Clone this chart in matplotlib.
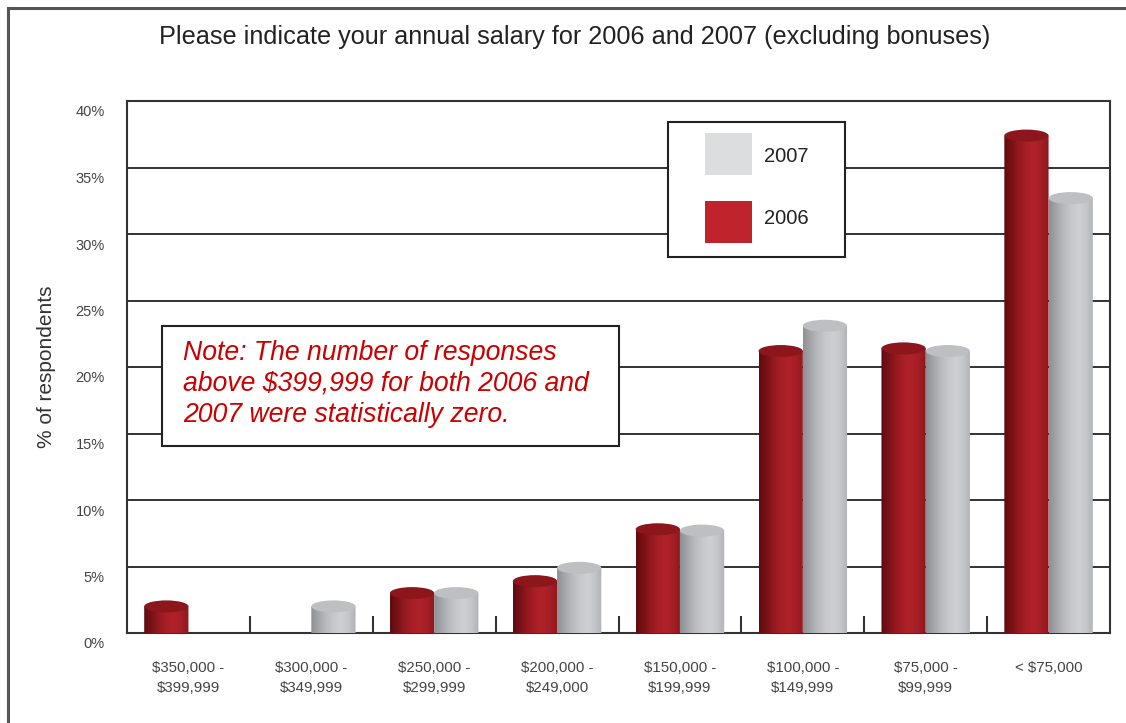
import numpy as np
import matplotlib
matplotlib.use("Agg")
import matplotlib.pyplot as plt
from matplotlib.patches import Ellipse, Rectangle, PathPatch
from matplotlib.path import Path
from matplotlib.lines import Line2D
from matplotlib.transforms import ScaledTranslation
from matplotlib.colors import LinearSegmentedColormap

# ---- data -------------------------------------------------------------
categories = ["$350,000 -\n$399,999", "$300,000 -\n$349,999", "$250,000 -\n$299,999",
              "$200,000 -\n$249,000", "$150,000 -\n$199,999", "$100,000 -\n$149,999",
              "$75,000 -\n$99,999", "< $75,000"]
pct_2006 = [2.0, 0.0, 3.0, 3.9, 7.8, 21.2, 21.4, 37.4]
pct_2007 = [0.0, 2.0, 3.0, 4.9, 7.7, 23.1, 21.2, 32.7]
y_ticks = [0, 5, 10, 15, 20, 25, 30, 35, 40]
y_tick_labels = [f"{t}%" for t in y_ticks]
title = "Please indicate your annual salary for 2006 and 2007 (excluding bonuses)"
note = ("Note: The number of responses\nabove $399,999 for both 2006 and\n"
        "2007 were statistically zero.")

plt.rcParams["font.family"] = ["Liberation Sans", "DejaVu Sans"]

W, H = 1126, 723
fig = plt.figure(figsize=(W / 100, H / 100), dpi=100)
fig.patch.set_facecolor("white")


def fx(px):
    return px / W


def fy(py):
    return 1 - py / H


ax = fig.add_axes([fx(127), fy(633), fx(1110) - fx(127), fy(101) - fy(633)])
ax.set_xlim(-0.5, len(categories) - 0.5)
ax.set_ylim(0, 40)

x = np.arange(len(categories))
bw = 0.36
off = 0.18

# cylinder shading (left -> right)
red_grad = ["#5e0c10", "#7a1217", "#951a20", "#a81f26", "#b0222a", "#a51f26", "#8e181d"]
gray_grad = ["#8e9094", "#a5a7ab", "#b8babd", "#c6c8cb", "#cdcfd2", "#c5c7ca", "#b0b2b5"]
red_top = "#8c161b"
gray_top = "#bdbfc2"

red_cmap = LinearSegmentedColormap.from_list("redcyl", red_grad)
gray_cmap = LinearSegmentedColormap.from_list("graycyl", gray_grad)

# ellipse height in data units (~12 px)
px_per_unit = (633 - 101) / 40.0
eh = 12 / px_per_unit


def cylinder(rect, cmap, topc):
    x0 = rect.get_x()
    w = rect.get_width()
    v = rect.get_height()
    if v <= 0:
        rect.set_visible(False)
        return
    rect.set_alpha(0)
    xc = x0 + w / 2
    # outline: rectangle body + lower half ellipse
    t = np.linspace(0, np.pi, 40)
    arc_x = xc + (w / 2) * np.cos(t)
    arc_y = -(eh / 2) * np.sin(t)
    verts = [(x0 + w, 0), (x0 + w, v), (x0, v), (x0, 0)]
    verts += list(zip(arc_x[::-1], arc_y[::-1]))[1:]
    verts += [(x0 + w, 0)]
    codes = [Path.MOVETO] + [Path.LINETO] * (len(verts) - 2) + [Path.CLOSEPOLY]
    clip = PathPatch(Path(verts, codes), transform=ax.transData,
                     facecolor="none", edgecolor="none")
    ax.add_patch(clip)
    grad = np.linspace(0, 1, 64).reshape(1, -1)
    im = ax.imshow(grad, cmap=cmap, aspect="auto",
                   extent=[x0, x0 + w, -eh / 2, v], zorder=4,
                   interpolation="bicubic")
    im.set_clip_path(clip)
    im.set_clip_on(True)
    ax.add_patch(Ellipse((xc, v), w, eh, facecolor=topc, edgecolor="none",
                         zorder=5, clip_on=False))


bars06 = ax.bar(x - off, pct_2006, bw, color=red_grad[4], zorder=3)
bars07 = ax.bar(x + off, pct_2007, bw, color=gray_grad[4], zorder=3)
for r in bars06:
    cylinder(r, red_cmap, red_top)
for r in bars07:
    cylinder(r, gray_cmap, gray_top)
ax.set_xlim(-0.5, len(categories) - 0.5)
ax.set_ylim(0, 40)

# grid & spines
ax.set_yticks(y_ticks)
ax.set_yticklabels(y_tick_labels)
ax.yaxis.grid(True, color="#222222", linewidth=1.3, zorder=1)
ax.set_axisbelow(True)
for s in ax.spines.values():
    s.set_color("#333333")
    s.set_linewidth(1.5)
ax.tick_params(axis="y", length=0, pad=16, labelsize=10.5, labelcolor="#444444")
for lab in ax.get_yticklabels():
    lab.set_transform(lab.get_transform() + ScaledTranslation(0, -0.1, fig.dpi_scale_trans))

ax.set_xticks(x)
ax.set_xticklabels(categories, linespacing=1.55)
ax.tick_params(axis="x", length=0, pad=20, labelsize=10.8, labelcolor="#444444")
ax.set_xticks(np.arange(len(categories) - 1) + 0.5, minor=True)
ax.tick_params(axis="x", which="minor", direction="in", length=12, width=1.5,
               color="#333333")

ax.set_ylabel("% of respondents", fontsize=15, color="#333333", labelpad=14)

fig.text(fx(575), fy(37), title, ha="center", va="center", fontsize=18.2,
         color="#222222")

# legend box
fig.add_artist(Rectangle((fx(668), fy(257)), fx(845) - fx(668), fy(122) - fy(257),
                         transform=fig.transFigure, facecolor="white",
                         edgecolor="#222222", linewidth=1.5, zorder=6))
fig.add_artist(Rectangle((fx(705), fy(175)), fx(752) - fx(705), fy(133) - fy(175),
                         transform=fig.transFigure, facecolor="#dcdddf",
                         edgecolor="none", zorder=7))
fig.add_artist(Rectangle((fx(705), fy(243)), fx(752) - fx(705), fy(201) - fy(243),
                         transform=fig.transFigure, facecolor="#c0232b",
                         edgecolor="none", zorder=7))
fig.text(fx(764), fy(157), "2007", ha="left", va="center", fontsize=14.5,
         color="#222222", zorder=8)
fig.text(fx(764), fy(219), "2006", ha="left", va="center", fontsize=14.5,
         color="#222222", zorder=8)

# note box
fig.add_artist(Rectangle((fx(162), fy(446)), fx(619) - fx(162), fy(326) - fy(446),
                         transform=fig.transFigure, facecolor="white",
                         edgecolor="#222222", linewidth=1.5, zorder=6))
fig.text(fx(183), fy(384), note, ha="left", va="center", fontsize=19.2,
         style="italic", color="#cc0000", linespacing=1.25, zorder=8)

# outer frame (top and left edges)
fig.add_artist(Line2D([fx(8), fx(8)], [fy(8), 0], transform=fig.transFigure,
                      color="#555555", linewidth=2.2))
fig.add_artist(Line2D([fx(8), 1], [fy(8), fy(8)], transform=fig.transFigure,
                      color="#555555", linewidth=2.2))

fig.savefig("out.png", dpi=100)
